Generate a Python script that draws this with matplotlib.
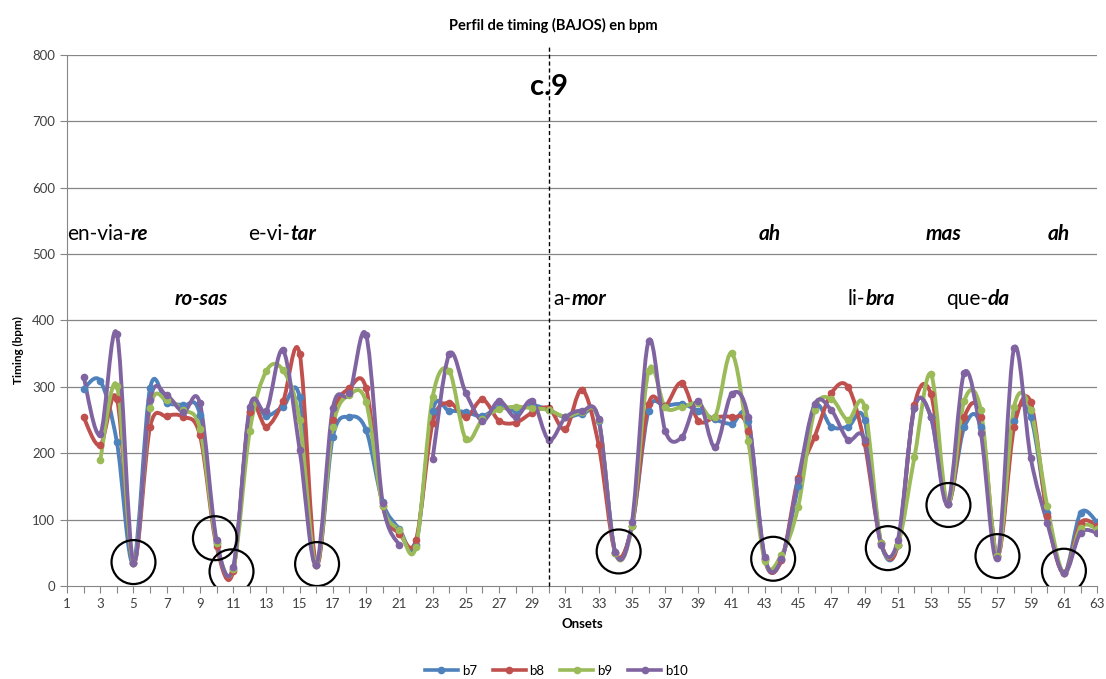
import numpy as np
import matplotlib
matplotlib.use("Agg")
import matplotlib.pyplot as plt
from matplotlib.path import Path
from matplotlib.patches import PathPatch
from matplotlib.lines import Line2D

plt.rcParams['font.family'] = ['Lato', 'DejaVu Sans']

# --- DATA ---
onsets = np.arange(1, 64)
nan = np.nan

b7 = [nan, 297, 309, 217, 35, 298, 276, 272, 258, 65, 25, 264, 256, 270, 284, 32,
      225, 255, 235, 126, 86, 62, 264, 264, 262, 256, 269, 264, 272, 265, 254, 259,
      249, 50, 90, 264, 271, 274, 264, 251, 244, 249, 40, 40, 150, 270, 240, 240,
      250, 64, 62, 268, 254, 124, 239, 240, 45, 249, 255, 110, 19, 110, 96]
b8 = [nan, 254, 212, 282, 35, 240, 256, 255, 227, 60, 22, 262, 240, 278, 350, 32,
      250, 298, 298, 120, 79, 69, 245, 276, 254, 281, 249, 246, 261, 268, 236, 296,
      212, 50, 90, 274, 271, 306, 249, 254, 254, 234, 40, 39, 162, 225, 290, 300,
      215, 64, 62, 272, 289, 124, 254, 255, 45, 239, 277, 105, 19, 95, 90]
b9 = [nan, nan, 190, 302, 35, 268, 280, 265, 237, 65, 25, 234, 324, 325, 250, 32,
      240, 288, 277, 121, 84, 59, 284, 324, 221, 251, 266, 270, 268, 265, 255, 262,
      250, 50, 90, 324, 269, 270, 275, 255, 351, 219, 38, 47, 119, 265, 282, 250,
      270, 65, 62, 194, 319, 124, 279, 265, 45, 270, 265, 120, 19, 88, 86]
b10 = [nan, 315, 229, 380, 35, 280, 287, 262, 275, 69, 28, 269, 264, 355, 205, 32,
       268, 290, 378, 125, 61, nan, 191, 349, 291, 249, 279, 254, 279, 220, 254, 264,
       251, 51, 96, 369, 234, 224, 279, 209, 289, 254, 43, 40, 160, 274, 265, 220,
       220, 62, 69, 268, 254, 124, 321, 230, 42, 358, 193, 95, 19, 80, 80]

series_names = ['b7', 'b8', 'b9', 'b10']
series_values = [b7, b8, b9, b10]
series_colors = ['#4F81BD', '#C0504D', '#9BBB59', '#8064A2']

# circled onsets
circle_x = [5.0, 9.9, 10.9, 16.05, 34.2, 43.5, 50.4, 54.05, 57.0, 61.0]
circle_y = [36, 72, 22, 33, 52, 41, 57, 122, 45, 23]

# lyrics: (plain part, bold-italic part, onset, bpm)
lyrics = [
    ('en-via-', 're', 1.0, 522),
    ('', 'ro-sas', 7.5, 423),
    ('e-vi-', 'tar', 11.9, 522),
    ('a-', 'mor', 30.3, 423),
    ('', 'ah', 42.6, 522),
    ('li-', 'bra', 48.0, 423),
    ('', 'mas', 52.7, 522),
    ('que-', 'da', 53.9, 423),
    ('', 'ah', 60.0, 522),
]
section_onset = 30


def smooth_path(x, y):
    # Excel-like smoothed line: cubic Bezier segments through the points
    verts, codes = [], []
    x = np.asarray(x, float)
    y = np.asarray(y, float)
    idx = np.where(~np.isnan(y))[0]
    groups = np.split(idx, np.where(np.diff(idx) != 1)[0] + 1)
    for g in groups:
        if len(g) < 2:
            continue
        px, py = x[g], y[g]
        n = len(g)
        verts.append((px[0], py[0]))
        codes.append(Path.MOVETO)
        for i in range(n - 1):
            i0 = max(i - 1, 0)
            i3 = min(i + 2, n - 1)
            c1 = (px[i] + (px[i + 1] - px[i0]) / 6, py[i] + (py[i + 1] - py[i0]) / 6)
            c2 = (px[i + 1] - (px[i3] - px[i]) / 6, py[i + 1] - (py[i3] - py[i]) / 6)
            verts += [c1, c2, (px[i + 1], py[i + 1])]
            codes += [Path.CURVE4] * 3
    return Path(verts, codes)


fig = plt.figure(figsize=(11.06, 6.79), dpi=100)
ax = fig.add_axes([0.0606, 0.137, 0.9314, 0.782])

grid_color = '#868686'
for v in range(100, 801, 100):
    ax.axhline(v, color=grid_color, lw=0.9, zorder=0)

for name, vals, col in zip(series_names, series_values, series_colors):
    path = smooth_path(onsets, vals)
    ax.add_patch(PathPatch(path, facecolor='none', edgecolor=col, lw=2.8,
                           capstyle='round', joinstyle='round', zorder=2))
    ax.plot(onsets, vals, 'o', color=col, ms=4.5, zorder=3)

ax.scatter(circle_x, circle_y, s=1000, facecolors='none', edgecolors='black',
           linewidths=1.6, zorder=4)

ax.plot([section_onset, section_onset], [0, 815], color='black', lw=1,
        dashes=(3, 2), clip_on=False, zorder=5)
ax.text(section_onset - 1.15, 752, 'c.9', fontsize=21, fontweight='bold',
        ha='left', va='center', zorder=6)

for plain, strong, xo, yv in lyrics:
    bi = dict(fontsize=15, fontweight='bold', fontstyle='italic', zorder=6)
    if plain:
        t = ax.text(xo, yv, plain, fontsize=15, ha='left', va='baseline', zorder=6)
        ax.annotate(strong, xy=(1, 0), xycoords=t, va='bottom', ha='left', **bi)
    else:
        ax.text(xo, yv, strong, ha='left', va='baseline', **bi)

ax.set_xlim(1, 63)
ax.set_ylim(0, 800)
ax.set_xticks(onsets)
ax.set_xticklabels([str(o) if o % 2 == 1 else '' for o in onsets])
ax.set_yticks(range(0, 801, 100))
ax.tick_params(axis='both', colors=grid_color, labelcolor='#404040',
               labelsize=9.5, length=5, direction='out')
for side in ['top', 'right']:
    ax.spines[side].set_visible(False)
for side in ['left', 'bottom']:
    ax.spines[side].set_color(grid_color)

ax.set_xlabel('Onsets', fontsize=9.5, fontweight='bold', labelpad=6)
fig.text(0.017, 0.485, 'Timing (bpm)', rotation=90, fontsize=8.5,
         fontweight='bold', ha='center', va='center')
fig.text(0.5, 0.962, 'Perfil de timing (BAJOS) en bpm', fontsize=10.5,
         fontweight='bold', ha='center', va='center')

handles = [Line2D([], [], color=c, lw=2.6, marker='o', ms=4.5) for c in series_colors]
fig.legend(handles, series_names, loc='center', bbox_to_anchor=(0.503, 0.012),
           ncol=4, frameon=False, fontsize=9.5, handlelength=2.5,
           columnspacing=1.2, handletextpad=0.3)

fig.savefig('out.png', dpi=100)
